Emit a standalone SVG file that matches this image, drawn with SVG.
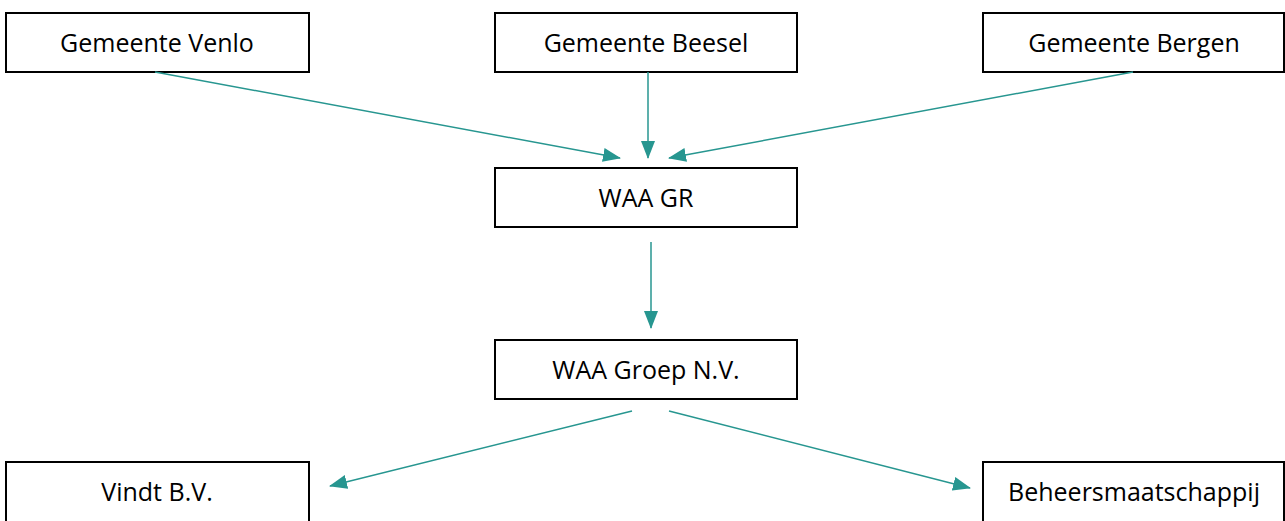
<svg xmlns="http://www.w3.org/2000/svg" width="1285" height="521" viewBox="0 0 1285 521">
<style>
.box{fill:#fff;stroke:#000;stroke-width:2}
.lbl{font-family:"Open Sans","DejaVu Sans",sans-serif;font-size:25px;fill:#000;text-anchor:middle}
.con{stroke:#279690;stroke-width:1.5;fill:none;marker-end:url(#ah)}
</style>
<defs>
<marker id="ah" viewBox="0 0 18 14" refX="17" refY="7" markerWidth="18" markerHeight="14" markerUnits="userSpaceOnUse" orient="auto">
<path d="M0,0 L18,7 L0,14 Z" fill="#279690"/>
</marker>
</defs>
<rect width="1285" height="521" fill="#fff"/>
<g id="venlo"><rect class="box" x="6" y="13" width="303" height="59"/><text class="lbl" x="157" y="52">Gemeente Venlo</text></g>
<g id="beesel"><rect class="box" x="495" y="13" width="302" height="59"/><text class="lbl" x="646" y="52">Gemeente Beesel</text></g>
<g id="bergen"><rect class="box" x="983" y="13" width="301" height="59"/><text class="lbl" x="1134" y="52">Gemeente Bergen</text></g>
<g id="waagr"><rect class="box" x="495" y="168" width="302" height="59"/><text class="lbl" x="646" y="207">WAA GR</text></g>
<g id="waagroep"><rect class="box" x="495" y="340" width="302" height="59"/><text class="lbl" x="646" y="379">WAA Groep N.V.</text></g>
<g id="vindt"><rect class="box" x="6" y="462" width="303" height="62"/><text class="lbl" x="157" y="501">Vindt B.V.</text></g>
<g id="beheer"><rect class="box" x="983" y="462" width="301" height="62"/><text class="lbl" x="1134" y="501">Beheersmaatschappij</text></g>
<g id="connectors">
<line class="con" x1="155" y1="72" x2="620" y2="158"/>
<line class="con" x1="648" y1="72" x2="648" y2="158"/>
<line class="con" x1="1133" y1="72" x2="669" y2="158"/>
<line class="con" x1="651" y1="242" x2="651" y2="328"/>
<line class="con" x1="632" y1="411" x2="330" y2="486"/>
<line class="con" x1="669" y1="411" x2="970" y2="488"/>
</g>
</svg>
